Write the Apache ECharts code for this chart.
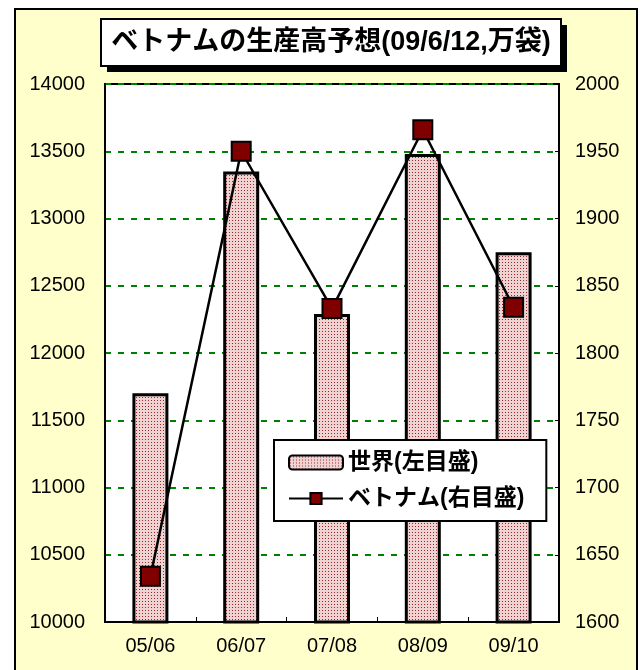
<!DOCTYPE html>
<html lang="ja">
<head>
    <meta charset="UTF-8">
    <title>ベトナムの生産高予想</title>
    <style>
    body{
    margin:0;
    background:#fff;
}
 #frame{
    position:absolute;
    left:14px;
    top:8px;
    width:624px;
    height:700px;
    box-sizing:border-box;
    background:#FFFFCC;
    border:2px solid #000;
}
 #main{
    position:absolute;
    left:0;
    top:0;
    width:644px;
    height:670px;
}
    </style>
</head>
<body>
    <div id="frame"></div>
    <div id="main"></div>
    <script src="https://cdn.jsdelivr.net/npm/echarts@6.0.0/dist/echarts.min.js"></script>
    <script>
    var categories = ['05/06', '06/07', '07/08', '08/09', '09/10'];
    var world = [11700, 13350, 12290, 13480, 12750];      // 世界(左目盛)
    var vietnam = [1634, 1950, 1833, 1966, 1834];         // ベトナム(右目盛)
    var leftTicks = {min: 10000, max: 14000, interval: 500};
    var rightTicks = {min: 1600, max: 2000, interval: 50};

    var fontLatin = '"Liberation Sans", Arial, "Noto Sans CJK JP", sans-serif';

    // 点描の塗りつぶし
    var pat = document.createElement('canvas');
    pat.width = 3;
    pat.height = 3;
    var ctx = pat.getContext('2d');
    ctx.fillStyle = '#efd2d2';
    ctx.fillRect(0, 0, 3, 3);
    ctx.fillStyle = '#9c2626';
    ctx.fillRect(1, 1, 1, 1);

    var plain = function (v) { return String(v); };

    var myChart = echarts.init(document.getElementById('main'), null, {renderer: 'canvas'});
    var option = {
        backgroundColor: 'transparent',
        animation: false,
        textStyle: {fontFamily: fontLatin},
        graphic: [
            {type: 'rect', shape: {x: 107, y: 25, width: 460, height: 47}, style: {fill: '#000'}},
            {type: 'rect', shape: {x: 101, y: 19, width: 460, height: 47}, style: {fill: '#fff', stroke: '#000', lineWidth: 2}},
            {type: 'text', x: 331, y: 43, style: {
                text: 'ベトナムの生産高予想(09/6/12,万袋)',
                font: 'bold 27px ' + fontLatin,
                fill: '#000', align: 'center', verticalAlign: 'middle'
            }}
        ],
        grid: {
            left: 105, right: 85, top: 84, bottom: 48,
            show: true,
            backgroundColor: '#fff',
            borderColor: '#000',
            borderWidth: 2
        },
        legend: {
            orient: 'vertical',
            left: 274,
            top: 440,
            padding: [11, 22, 11, 14],
            itemGap: 13,
            itemWidth: 54,
            itemHeight: 14,
            backgroundColor: '#fff',
            borderColor: '#000',
            borderWidth: 2,
            borderRadius: 0,
            textStyle: {fontSize: 23, fontWeight: 'bold', color: '#000', fontFamily: fontLatin},
            data: ['世界(左目盛)', 'ベトナム(右目盛)']
        },
        xAxis: {
            type: 'category',
            data: categories,
            axisLine: {lineStyle: {color: '#000', width: 2}},
            axisTick: {show: true, inside: true, length: 5, lineStyle: {color: '#000', width: 1}},
            axisLabel: {fontSize: 20, color: '#000', margin: 14}
        },
        yAxis: [
            {
                type: 'value',
                min: leftTicks.min, max: leftTicks.max, interval: leftTicks.interval,
                axisLine: {show: true, lineStyle: {color: '#000', width: 2}},
                axisTick: {show: false},
                axisLabel: {fontSize: 20, color: '#000', margin: 20, formatter: plain},
                splitLine: {show: true, lineStyle: {color: '#008000', width: 2, type: [6, 7]}}
            },
            {
                type: 'value',
                min: rightTicks.min, max: rightTicks.max, interval: rightTicks.interval,
                axisLine: {show: true, lineStyle: {color: '#000', width: 2}},
                axisTick: {show: true, inside: true, length: 4, lineStyle: {color: '#000'}},
                axisLabel: {fontSize: 20, color: '#000', margin: 16, formatter: plain},
                splitLine: {show: false}
            }
        ],
        series: [
            {
                name: '世界(左目盛)',
                type: 'bar',
                yAxisIndex: 0,
                barWidth: 36,
                data: world,
                itemStyle: {
                    color: {image: pat, repeat: 'repeat'},
                    borderColor: '#000',
                    borderWidth: 3
                }
            },
            {
                name: 'ベトナム(右目盛)',
                type: 'line',
                yAxisIndex: 1,
                data: vietnam,
                symbol: 'rect',
                symbolSize: 19,
                lineStyle: {color: '#000', width: 2.5},
                itemStyle: {color: '#800000', borderColor: '#000', borderWidth: 2}
            }
        ]
    };
    myChart.setOption(option);
    </script>
</body>
</html>
